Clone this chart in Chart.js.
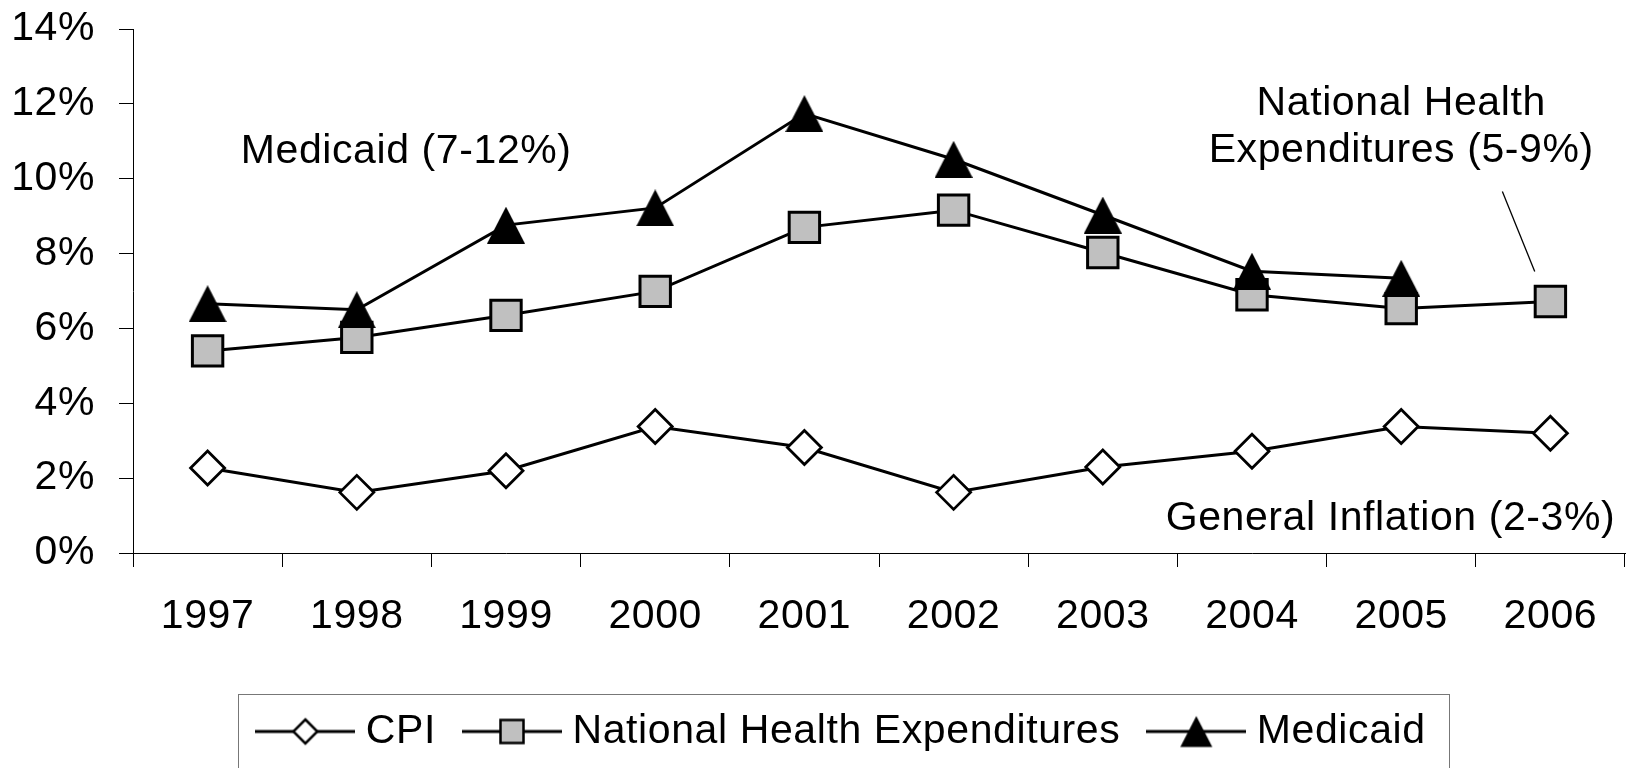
<!DOCTYPE html>
<html>
<head>
<meta charset="utf-8">
<script src="https://cdn.jsdelivr.net/npm/chart.js@4/dist/chart.umd.min.js"></script>
<style>
html,body{margin:0;padding:0;background:#fff;}
#wrap{width:1633px;height:768px;position:relative;}
</style>
</head>
<body>
<div id="wrap"><canvas id="c" width="1633" height="768"></canvas></div>
<script>
// ---------- data ----------
const years = ['1997','1998','1999','2000','2001','2002','2003','2004','2005','2006'];
const cpiValues = [2.27, 1.62, 2.2, 3.38, 2.82, 1.62, 2.3, 2.72, 3.38, 3.2];
const nheValues = [5.4, 5.76, 6.35, 6.99, 8.7, 9.16, 8.03, 6.9, 6.53, 6.72];
const medicaidValues = [6.66, 6.5, 8.76, 9.22, 11.74, 10.52, 9.03, 7.53, 7.34, null];
const seriesNames = ['CPI', 'National Health Expenditures', 'Medicaid'];
const yTickValues = [0, 2, 4, 6, 8, 10, 12, 14];
const annotationTexts = [
  {text: 'Medicaid (7-12%)', cat: 0.222, val: 10.42, align: 'left'},
  {text: 'National Health', cat: 8.0, val: 11.71, align: 'center'},
  {text: 'Expenditures (5-9%)', cat: 8.0, val: 10.44, align: 'center'},
  {text: 'General Inflation (2-3%)', cat: 9.435, val: 0.62, align: 'right'}
];
const leaderLine = {from: [8.678, 9.66], to: [8.895, 7.52]};

// ---------- styling ----------
const FONT = "'Liberation Sans', Arial, sans-serif";
const LETTER_SPACING = '0.6px';
const LEGEND_PAD = 36;
Chart.defaults.font.family = FONT;
Chart.defaults.color = '#000';

function makeCanvas(w, h) {
  const c = document.createElement('canvas');
  c.width = w; c.height = h;
  return c;
}
function drawTriangle(g, cx, cy, w, h) {
  g.fillStyle = '#000';
  g.beginPath();
  g.moveTo(cx, cy - h / 2);
  g.lineTo(cx + w / 2, cy + h / 2);
  g.lineTo(cx - w / 2, cy + h / 2);
  g.closePath();
  g.fill();
}
function triangleMarker(w, h) {
  const c = makeCanvas(w, h);
  drawTriangle(c.getContext('2d'), w / 2, h / 2, w, h);
  return c;
}
function legendIcon(kind) {
  const W = 100, H = 40;
  const c = makeCanvas(W, H);
  const g = c.getContext('2d');
  g.strokeStyle = '#000';
  g.lineWidth = 3;
  g.beginPath(); g.moveTo(0, H / 2); g.lineTo(W, H / 2); g.stroke();
  const cx = W / 2, cy = H / 2;
  g.lineJoin = 'miter';
  if (kind === 'diamond') {
    const r = 12;
    g.beginPath();
    g.moveTo(cx, cy - r); g.lineTo(cx + r, cy); g.lineTo(cx, cy + r); g.lineTo(cx - r, cy); g.closePath();
    g.fillStyle = '#fff'; g.fill();
    g.lineWidth = 2.5; g.stroke();
  } else if (kind === 'square') {
    const s = 23;
    g.fillStyle = '#C0C0C0';
    g.fillRect(cx - s / 2, cy - s / 2, s, s);
    g.lineWidth = 2.5; g.strokeRect(cx - s / 2, cy - s / 2, s, s);
  } else {
    drawTriangle(g, cx, cy, 32, 31);
  }
  return c;
}
const legendIcons = [legendIcon('diamond'), legendIcon('square'), legendIcon('triangle')];
const medicaidMarker = triangleMarker(38, 37);

// ---------- plugins ----------
const extrasPlugin = {
  id: 'extras',
  beforeUpdate(chart) { chart.ctx.letterSpacing = LETTER_SPACING; },
  beforeLayout(chart) { chart.ctx.letterSpacing = LETTER_SPACING; },
  afterLayout(chart) {
    const lg = chart.legend;
    if (lg) { lg.left += 33; lg.right += 33; }
  },
  beforeDraw(chart) { chart.ctx.letterSpacing = LETTER_SPACING; },
  afterDraw(chart) {
    const {ctx, scales: {x, y}} = chart;
    ctx.save();
    ctx.letterSpacing = LETTER_SPACING;
    ctx.fillStyle = '#000';
    ctx.font = '41px ' + FONT;
    ctx.textBaseline = 'alphabetic';
    annotationTexts.forEach(a => {
      ctx.textAlign = a.align;
      ctx.fillText(a.text, x.getPixelForValue(a.cat), y.getPixelForValue(a.val));
    });
    ctx.strokeStyle = '#000';
    ctx.lineWidth = 1.3;
    ctx.beginPath();
    ctx.moveTo(x.getPixelForValue(leaderLine.from[0]), y.getPixelForValue(leaderLine.from[1]));
    ctx.lineTo(x.getPixelForValue(leaderLine.to[0]), y.getPixelForValue(leaderLine.to[1]));
    ctx.stroke();
    const lg = chart.legend;
    if (lg && lg.legendHitBoxes && lg.legendHitBoxes.length) {
      const hb = lg.legendHitBoxes;
      const first = hb[0], last = hb[hb.length - 1];
      const left = first.left - 10 - 17;
      const right = last.left + last.width + 24;
      const mid = first.top + first.height / 2;
      ctx.strokeStyle = '#777';
      ctx.lineWidth = 1;
      ctx.strokeRect(Math.round(left) + 0.5, Math.round(mid - 38) + 0.5, Math.round(right - left), 90);
    }
    ctx.restore();
  }
};

// ---------- chart ----------
const common = {borderColor: '#000', borderWidth: 3, tension: 0, pointBorderColor: '#000', pointBorderWidth: 3};
new Chart(document.getElementById('c'), {
  type: 'line',
  data: {
    labels: years,
    datasets: [
      Object.assign({}, common, {
        label: seriesNames[0], data: cpiValues, order: 3,
        pointStyle: 'rectRot', pointRadius: 17, pointHoverRadius: 17,
        pointBackgroundColor: '#fff', pointBorderWidth: 2.8
      }),
      Object.assign({}, common, {
        label: seriesNames[1], data: nheValues, order: 2,
        pointStyle: 'rect', pointRadius: 21.5, pointHoverRadius: 21.5,
        pointBackgroundColor: '#C0C0C0'
      }),
      Object.assign({}, common, {
        label: seriesNames[2], data: medicaidValues, order: 1,
        pointStyle: medicaidMarker, pointRadius: 18, pointHoverRadius: 18,
        pointBackgroundColor: '#000'
      })
    ]
  },
  options: {
    responsive: false,
    animation: false,
    devicePixelRatio: 1,
    events: [],
    layout: {autoPadding: false, padding: {top: 29, right: 8, bottom: 6, left: 0}},
    plugins: {
      tooltip: {enabled: false},
      title: {display: false},
      legend: {
        display: true,
        position: 'bottom',
        labels: {
          usePointStyle: true,
          pointStyleWidth: 80,
          boxHeight: 41,
          padding: LEGEND_PAD,
          color: '#000',
          font: {size: 41, family: FONT},
          sort: (a, b) => a.datasetIndex - b.datasetIndex,
          generateLabels(chart) {
            const items = Chart.defaults.plugins.legend.labels.generateLabels(chart);
            items.forEach(it => { it.pointStyle = legendIcons[it.datasetIndex]; it.lineWidth = 0; });
            return items;
          }
        }
      }
    },
    scales: {
      x: {
        type: 'category',
        offset: true,
        grid: {offset: true, drawOnChartArea: false, drawTicks: true, tickLength: 14, color: '#000', lineWidth: 1},
        border: {display: true, color: '#000', width: 1},
        ticks: {color: '#000', font: {size: 41, family: FONT}, padding: 25, maxRotation: 0, autoSkip: false},
        afterFit(s) { s.height = 125 - (LEGEND_PAD - 33); s.paddingLeft = 0; s.paddingRight = 0; }
      },
      y: {
        min: 0, max: 14,
        afterBuildTicks(s) { s.ticks = yTickValues.map(v => ({value: v})); },
        grid: {drawOnChartArea: false, drawTicks: true, tickLength: 14, color: '#000', lineWidth: 1},
        border: {display: true, color: '#000', width: 1},
        ticks: {color: '#000', font: {size: 41, family: FONT}, padding: 24, callback: v => v + '%'},
        afterFit(s) { s.width = 133; s.paddingTop = 0; s.paddingBottom = 0; }
      }
    }
  },
  plugins: [extrasPlugin]
});
</script>
</body>
</html>
